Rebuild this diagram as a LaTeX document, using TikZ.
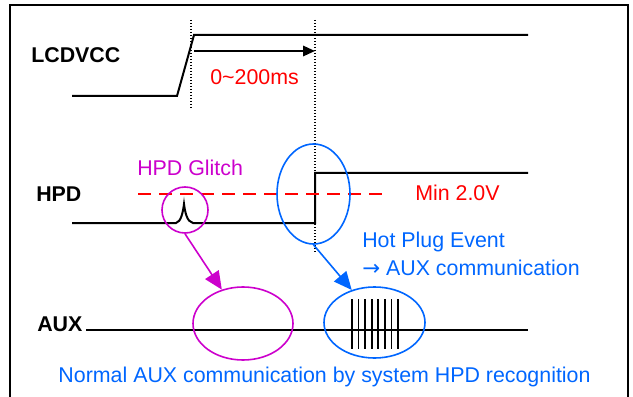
\documentclass[tikz,border=0pt]{standalone}
\usepackage{fontspec}
\setmainfont{Liberation Sans}
\newfontfamily\arrowfont{DejaVu Sans}
\usetikzlibrary{shapes.geometric,arrows.meta}
\definecolor{glitchmag}{RGB}{204,0,204}
\definecolor{eventblue}{RGB}{0,102,255}
\begin{document}
\begin{tikzpicture}[x=0.25mm,y=-0.25mm,
	sig/.style={line width=0.5mm},
	lbl/.style={inner sep=0,anchor=west,font=\fontsize{15.2}{17}\selectfont\bfseries},
	txt/.style={inner sep=0,anchor=west,font=\fontsize{15.2}{17}\selectfont},
	ring/.style={draw,ellipse,inner sep=0,line width=0.4mm},
	guide/.style={line width=0.4mm,dash pattern=on 0.35mm off 0.4mm},
	bigtip/.style={line width=0.4mm,-{Triangle[length=4.5mm,width=4mm]}}]

	\useasboundingbox (0,0) rectangle (633,397);
	\draw[line width=0.5mm] (10,5) rectangle (628,420);

	\node[lbl] (lcdvcc) at (31,55) {LCDVCC};
	\node[lbl] (hpd) at (36,194) {HPD};
	\node[lbl] (aux) at (37,324) {AUX};

	\draw[sig] (72,96) -- (177,96) -- (194,35) -- (528,35);
	\draw[sig] (72,223) -- (176,223) .. controls (181,222) and (183,212) .. (184,204)
		.. controls (185,212) and (187,222) .. (193,223) -- (315,223) -- (315,173) -- (528,173);
	\draw[sig] (86,330) -- (528,330);

	\draw[guide] (191,20) -- (191,110);
	\draw[guide] (315,20) -- (315,253);

	\coordinate (ramptop) at (194,51);
	\coordinate (hpdrise) at (315,51);
	\draw[sig,-{Triangle[length=3mm,width=2.6mm]}] (ramptop) -- (hpdrise);
	\node[txt,red] (delay) at (210,77) {0\textasciitilde200ms};

	\draw[red,line width=0.5mm,dash pattern=on 3.25mm off 2mm] (138,194) -- (390,194);
	\node[txt,red] (minv) at (415,193) {Min 2.0V};
	\node[txt,glitchmag] (glitchtxt) at (137,168) {HPD Glitch};

	\node[ring,glitchmag,minimum width=11.5mm,minimum height=11.5mm] (glitch) at (185,210) {};
	\node[ring,eventblue,minimum width=18.25mm,minimum height=25mm] (plug) at (313.5,194) {};
	\node[ring,glitchmag,minimum width=25mm,minimum height=18.25mm] (auxnormal) at (243,323.5) {};
	\node[ring,eventblue,minimum width=25.25mm,minimum height=17.75mm] (auxburst) at (374.5,322.5) {};

	\draw[bigtip,glitchmag] (glitch.south) -- (auxnormal.122);
	\draw[bigtip,eventblue] (plug.south) -- (auxburst.125);

	\foreach \i in {0,...,7}
		\draw[line width=0.45mm] (352+6.57*\i,299) -- (352+6.57*\i,349);

	\node[txt,eventblue] (plugtxt) at (362,242) {Hot Plug Event};
	\node[txt,eventblue] (commtxt) at (362,268) {{\arrowfont →} AUX communication};
	\node[txt,eventblue,anchor=center] (normaltxt) at (324.5,377) {Normal AUX communication by system HPD recognition};

\end{tikzpicture}
\end{document}
